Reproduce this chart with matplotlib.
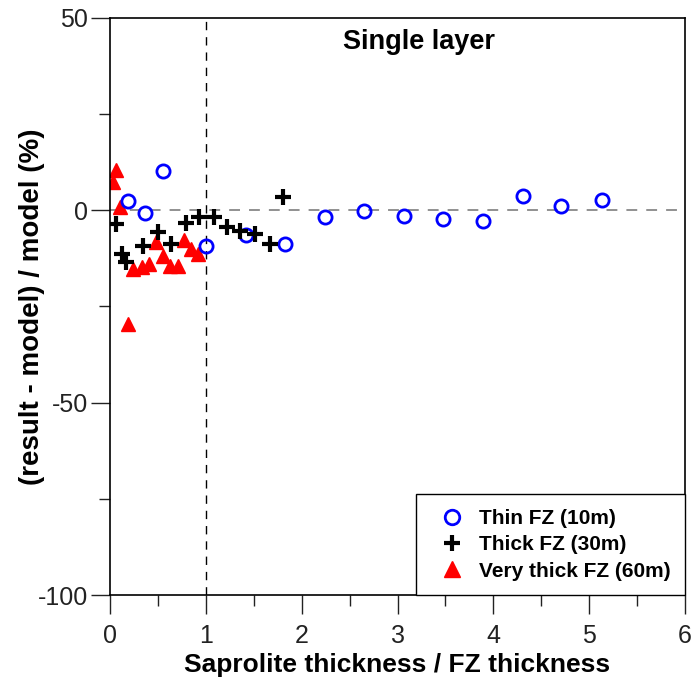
import numpy as np
import matplotlib.pyplot as plt
import matplotlib
matplotlib.rcParams['font.family'] = ['Liberation Sans', 'DejaVu Sans']
matplotlib.rcParams['axes.unicode_minus'] = False

# Datos
x_thin = [0.19, 0.365, 0.556, 1.00, 1.417, 1.83, 2.24, 2.65, 3.07, 3.47, 3.89, 4.31, 4.71, 5.13]
y_thin = [2.4, -0.6, 10.3, -9.3, -6.5, -8.7, -1.7, -0.2, -1.5, -2.2, -2.8, 3.7, 1.1, 2.6]

x_thick = [0.059, 0.12, 0.17, 0.34, 0.505, 0.633, 0.79, 0.93, 1.08, 1.22, 1.357, 1.51, 1.67, 1.80]
y_thick = [-3.7, -11.5, -13.5, -9.3, -5.7, -8.7, -3.3, -1.7, -1.7, -4.4, -5.4, -6.1, -8.7, 3.3]

x_vthick = [0.035, 0.059, 0.104, 0.19, 0.243, 0.33, 0.41, 0.48, 0.55, 0.626, 0.71, 0.77, 0.84, 0.92]
y_vthick = [7.4, 10.4, 0.9, -29.6, -15.2, -14.8, -13.9, -8.3, -12.0, -14.4, -14.4, -7.7, -10.0, -11.3]

fig = plt.figure(figsize=(6.92, 6.81), dpi=100)
ax = fig.add_axes([0.159, 0.126, 0.831, 0.848])

ax.axhline(0, color="#888888", lw=1.3, ls=(0, (6, 5)), zorder=1)
ax.axvline(1, color="black", lw=1.0, ls=(0, (6, 5)), zorder=1)

ax.plot(x_thin, y_thin, ls="none", marker="o", ms=9.5, mfc="none",
        mec="#0000ff", mew=2.0, label="Thin FZ (10m)", zorder=3)
ax.plot(x_thick, y_thick, ls="none", marker="+", ms=11,
        mec="black", mew=3.0, label="Thick FZ (30m)", zorder=3)
ax.plot(x_vthick, y_vthick, ls="none", marker="^", ms=10,
        color="#ff0000", mec="#ff0000", label="Very thick FZ (60m)", zorder=2)

ax.set_xlim(0, 6)
ax.set_ylim(-100, 50)
ax.set_xticks(np.arange(0, 7, 1))
ax.set_xticks(np.arange(0.5, 6, 1), minor=True)
ax.set_yticks([-100, -50, 0, 50])
ax.set_yticks([-75, -25, 25], minor=True)
ax.tick_params(which="major", direction="out", length=14, width=1,
               labelsize=18, top=False, right=False, colors="#222222")
ax.tick_params(axis="x", which="major", pad=7)
ax.tick_params(axis="y", which="major", pad=2)
ax.tick_params(which="minor", direction="out", length=8, width=1,
               top=False, right=False, colors="#222222")
for s in ax.spines.values():
    s.set_linewidth(1.2)

ax.set_xlabel("Saprolite thickness / FZ thickness", fontsize=19,
              fontweight="bold", labelpad=3)
ax.set_ylabel("(result - model) / model (%)", fontsize=20,
              fontweight="bold", labelpad=-5)
ax.text(0.537, 0.945, "Single layer", transform=ax.transAxes, fontsize=19.5,
        fontweight="bold", ha="center", va="baseline")

leg = ax.legend(loc="lower right", borderaxespad=0, fancybox=False,
                edgecolor="black", framealpha=1,
                prop={"weight": "bold", "size": 15}, markerscale=1.1,
                handletextpad=0.3, borderpad=0.7, labelspacing=0.35)
leg.get_frame().set_linewidth(1.0)

plt.savefig("out.png", dpi=100)
